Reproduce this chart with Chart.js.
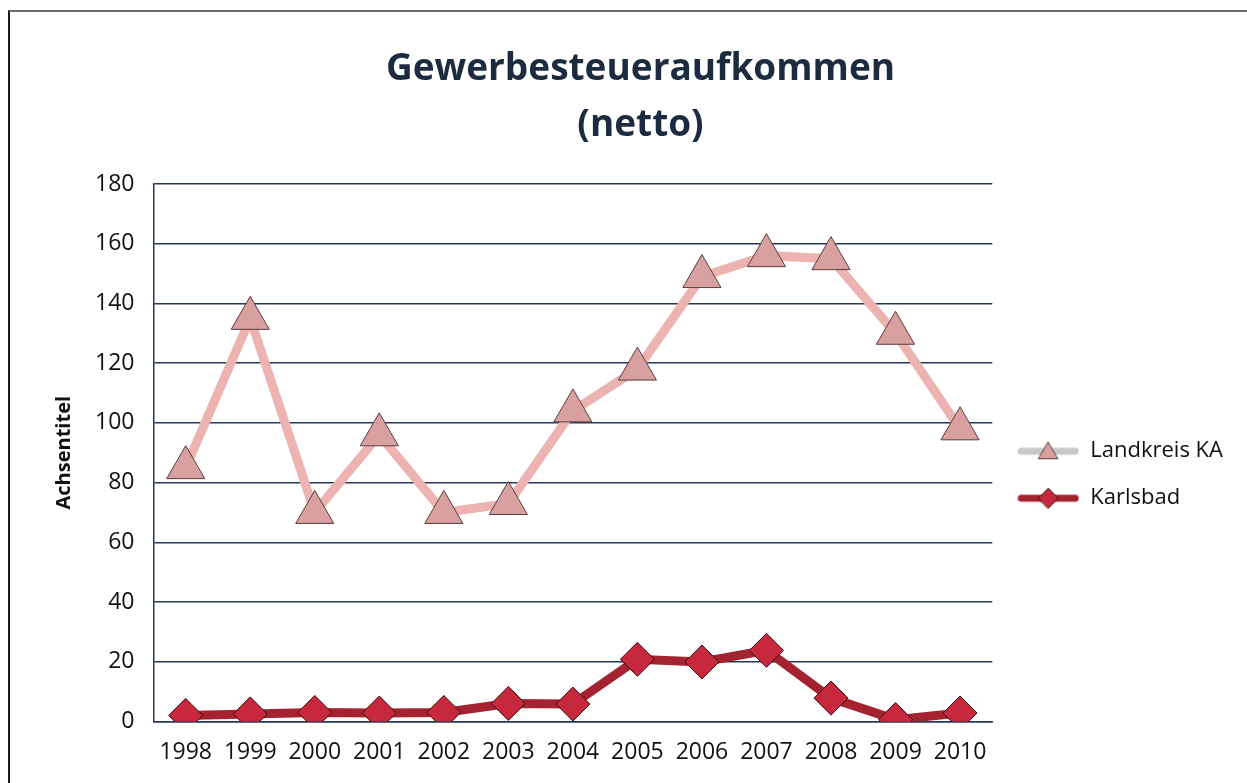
<!DOCTYPE html>
<html lang="de">
<head>
<meta charset="utf-8">
<title>Gewerbesteueraufkommen (netto)</title>
<script src="https://cdn.jsdelivr.net/npm/chart.js@4/dist/chart.umd.min.js"></script>
<style>
    html, body {
        margin: 0;
        padding: 0;
        background: #ffffff;
    }
    #wrap {
        position: relative;
        width: 1247px;
        height: 783px;
    }
    #frame {
        position: absolute;
        left: 8px;
        top: 10px;
        right: 0;
        bottom: 0;
        border-left: 2px solid #1a1a1a;
        border-top: 2px solid #6b6b6b;
        pointer-events: none;
    }
</style>
</head>
<body>
<div id="wrap">
    <canvas id="chart"></canvas>
    <div id="frame"></div>
</div>
<script>
// Data
const years = ['1998', '1999', '2000', '2001', '2002', '2003', '2004',
               '2005', '2006', '2007', '2008', '2009', '2010'];
const landkreisKA = [85, 135, 70, 96, 70, 73, 104, 118, 149, 156, 155, 130, 98];
const karlsbad = [2, 2.5, 3, 2.8, 3, 6, 5.8, 20.8, 19.9, 23.8, 7.8, 0.6, 2.8];
const yTicks = [0, 20, 40, 60, 80, 100, 120, 140, 160, 180];

const chartTitle = ['Gewerbesteueraufkommen', '(netto)'];
const axisTitle = 'Achsentitel';

const FONT = "'Open Sans', 'DejaVu Sans', sans-serif";
const textColor = '#111111';

// Colours
const pinkLine = '#ecb3b1';
const pinkMarker = '#d9a0a0';
const pinkEdge = '#5b3c3c';
const redLine = '#a52331';
const redMarker = '#c7283d';
const redEdge = '#3a0e12';
const gridColor = '#27395a';

// Small legend icon: a line segment with the series marker on it
function makeLegendIcon(lineColor, style, radius, fill, stroke) {
    const c = document.createElement('canvas');
    c.width = 62;
    c.height = 30;
    const ctx = c.getContext('2d');
    ctx.strokeStyle = lineColor;
    ctx.lineWidth = 7;
    ctx.lineCap = 'round';
    ctx.beginPath();
    ctx.moveTo(4, 15);
    ctx.lineTo(58, 15);
    ctx.stroke();
    ctx.fillStyle = fill;
    ctx.strokeStyle = stroke;
    ctx.lineWidth = 1;
    Chart.helpers.drawPoint(ctx, {
        pointStyle: style,
        radius: radius,
        rotation: 0,
        borderWidth: 1
    }, 31, style === 'triangle' ? 17 : 15);
    return c;
}

const legendIcons = [
    makeLegendIcon('#c9c9c9', 'triangle', 11, pinkMarker, pinkEdge),
    makeLegendIcon(redLine, 'rectRot', 10, redMarker, redEdge)
];

const ctx = document.getElementById('chart').getContext('2d');

const chart = new Chart(ctx, {
    type: 'line',
    data: {
        labels: years,
        datasets: [
            {
                label: 'Landkreis KA',
                data: landkreisKA,
                borderColor: pinkLine,
                borderWidth: 9,
                pointStyle: 'triangle',
                pointRadius: 22,
                pointBackgroundColor: pinkMarker,
                pointBorderColor: pinkEdge,
                pointBorderWidth: 1,
                tension: 0
            },
            {
                label: 'Karlsbad',
                data: karlsbad,
                borderColor: redLine,
                borderWidth: 9,
                pointStyle: 'rectRot',
                pointRadius: 17,
                pointBackgroundColor: redMarker,
                pointBorderColor: redEdge,
                pointBorderWidth: 1,
                tension: 0
            }
        ]
    },
    options: {
        responsive: true,
        maintainAspectRatio: false,
        animation: false,
        events: [],
        layout: {
            padding: { top: 0, left: 48, right: 14, bottom: 0 }
        },
        plugins: {
            title: {
                display: true,
                text: chartTitle,
                color: '#1c2b3f',
                font: { family: FONT, size: 37, weight: 'bold', lineHeight: 1.5 },
                padding: { top: 42, bottom: 31 }
            },
            legend: {
                position: 'right',
                fullSize: false,
                title: {
                    // empty title, only used to push the entries down a little
                    display: true,
                    text: ' ',
                    color: textColor,
                    font: { family: FONT, size: 20 },
                    padding: { top: 10, bottom: 10 }
                },
                labels: {
                    usePointStyle: true,
                    pointStyleWidth: 62,
                    padding: 25,
                    color: textColor,
                    font: { family: FONT, size: 22 },
                    generateLabels: function(chart) {
                        return chart.data.datasets.map((ds, i) => ({
                            text: ds.label,
                            fontColor: textColor,
                            pointStyle: legendIcons[i],
                            fillStyle: ds.borderColor,
                            strokeStyle: ds.borderColor,
                            lineWidth: 0,
                            hidden: false,
                            datasetIndex: i
                        }));
                    }
                }
            },
            tooltip: { enabled: false }
        },
        scales: {
            x: {
                offset: true,
                grid: { display: false, drawTicks: false },
                border: { display: true, color: gridColor, width: 1.5 },
                ticks: {
                    color: textColor,
                    padding: 17,
                    font: { family: FONT, size: 23 }
                }
            },
            y: {
                min: 0,
                max: 180,
                afterBuildTicks: function(scale) {
                    scale.ticks = yTicks.map(v => ({ value: v }));
                },
                grid: { color: gridColor, lineWidth: 1.5, drawTicks: false },
                border: { display: true, color: gridColor, width: 1.5 },
                ticks: {
                    color: textColor,
                    padding: 19,
                    font: { family: FONT, size: 23 }
                },
                title: {
                    display: true,
                    text: axisTitle,
                    color: textColor,
                    font: { family: FONT, size: 20, weight: 'bold' },
                    padding: { top: 4, bottom: 0 }
                }
            }
        }
    }
});
</script>
</body>
</html>
